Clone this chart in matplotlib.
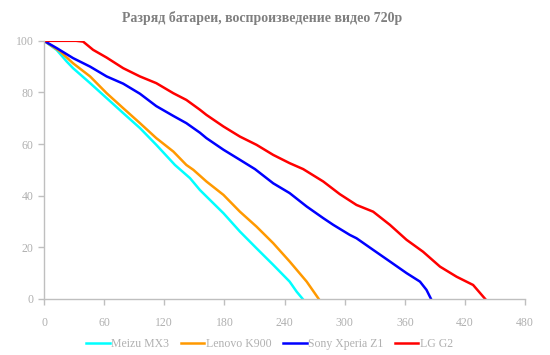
import matplotlib
matplotlib.use("Agg")
import matplotlib.pyplot as plt

# battery discharge, minutes vs percent
meizu_t = [0, 12.6, 22.6, 29, 46, 62.5, 79, 95.7, 112, 130.6, 145.6, 155.5, 162, 179, 195.4, 212, 228.6, 245, 252, 258]
meizu_v = [100, 96.5, 92, 89.4, 83.6, 77.8, 72, 66.2, 59.7, 51.9, 46.8, 42.2, 39.7, 33.2, 26.1, 19.6, 13.2, 6.7, 2.8, 0]

lenovo_t = [0, 16, 29, 46, 62.5, 79, 95.7, 112, 129, 142, 149, 162, 179, 195.4, 212, 228.6, 245, 262, 274]
lenovo_v = [100, 95.9, 91.3, 86.2, 79.7, 73.9, 68.1, 62.3, 57.1, 51.9, 50.0, 45.5, 40.3, 33.8, 28, 21.6, 14.5, 6.7, 0]

sony_t = [0, 12.6, 29, 46, 62.5, 79, 95.7, 112, 129, 142, 155.5, 162, 179, 195.4, 210.4, 228.6, 245, 262, 278.5, 288.5, 305,
          311.7, 328.3, 345, 361.6, 375, 381.5, 386]
sony_v = [100, 97.2, 93.3, 90, 86.2, 83.4, 79.5, 74.7, 70.9, 68.1, 64.4, 62.3, 57.8, 53.9, 50.3, 44.8, 41, 35.8, 31.3, 28.7, 24.8,
          23.5, 19, 14.5, 10, 6.7, 3.5, 0]

lg_t = [0, 32, 39, 49, 62.5, 79, 95.7, 112, 129, 142, 155.5, 162, 179, 195.4, 212, 228.6, 245, 258.5, 278.5, 295, 311.7,
        328.3, 345, 361.6, 378, 395, 411.5, 428, 440]
lg_v = [100, 100, 99.7, 96.5, 93.5, 89.4, 86.2, 83.6, 79.7, 77.1, 73.3, 71.3, 66.8, 62.9, 59.7, 55.8, 52.6, 50.3, 45.5, 40.6, 36.4,
        33.8, 28.7, 22.9, 18.3, 12.5, 8.6, 5.4, 0]

x_ticks = [0, 60, 120, 180, 240, 300, 360, 420, 480]
y_ticks = [0, 20, 40, 60, 80, 100]

grey = '#bfbfbf'
txt = '#b0b0b0'

plt.rcParams['font.family'] = ['Liberation Serif', 'DejaVu Serif']

fig = plt.figure(figsize=(5.5, 3.55), dpi=100)
ax = fig.add_axes([0.08, 0.158, 0.875, 0.727])

ax.plot(meizu_t, meizu_v, color='#00ffff', lw=1.8, label='Meizu MX3')
ax.plot(lenovo_t, lenovo_v, color='#ff9900', lw=1.8, label='Lenovo K900')
ax.plot(sony_t, sony_v, color='#0000ff', lw=1.8, label='Sony Xperia Z1')
ax.plot(lg_t, lg_v, color='#ff0000', lw=1.8, label='LG G2')

ax.set_xlim(0, 480)
ax.set_ylim(0, 100)
ax.set_xticks(x_ticks)
ax.set_yticks(y_ticks)
for s in ['top', 'right']:
    ax.spines[s].set_visible(False)
for s in ['left', 'bottom']:
    ax.spines[s].set_color(grey)
    ax.spines[s].set_linewidth(1)
ax.tick_params(colors=grey, labelcolor=txt, labelsize=8.5, length=4, width=1)
ax.tick_params(axis='x', pad=9)

fig.suptitle('Разряд батареи, воспроизведение видео 720p', x=0.477, y=0.97,
             fontsize=10, fontweight='bold', color='#7f7f7f')

fig.legend(loc='lower center', ncol=4, frameon=False, fontsize=8.5,
           bbox_to_anchor=(0.49, -0.015), handlelength=2.0, handletextpad=0.1,
           columnspacing=1.0, labelcolor=txt)

fig.savefig('out.png', dpi=100)
